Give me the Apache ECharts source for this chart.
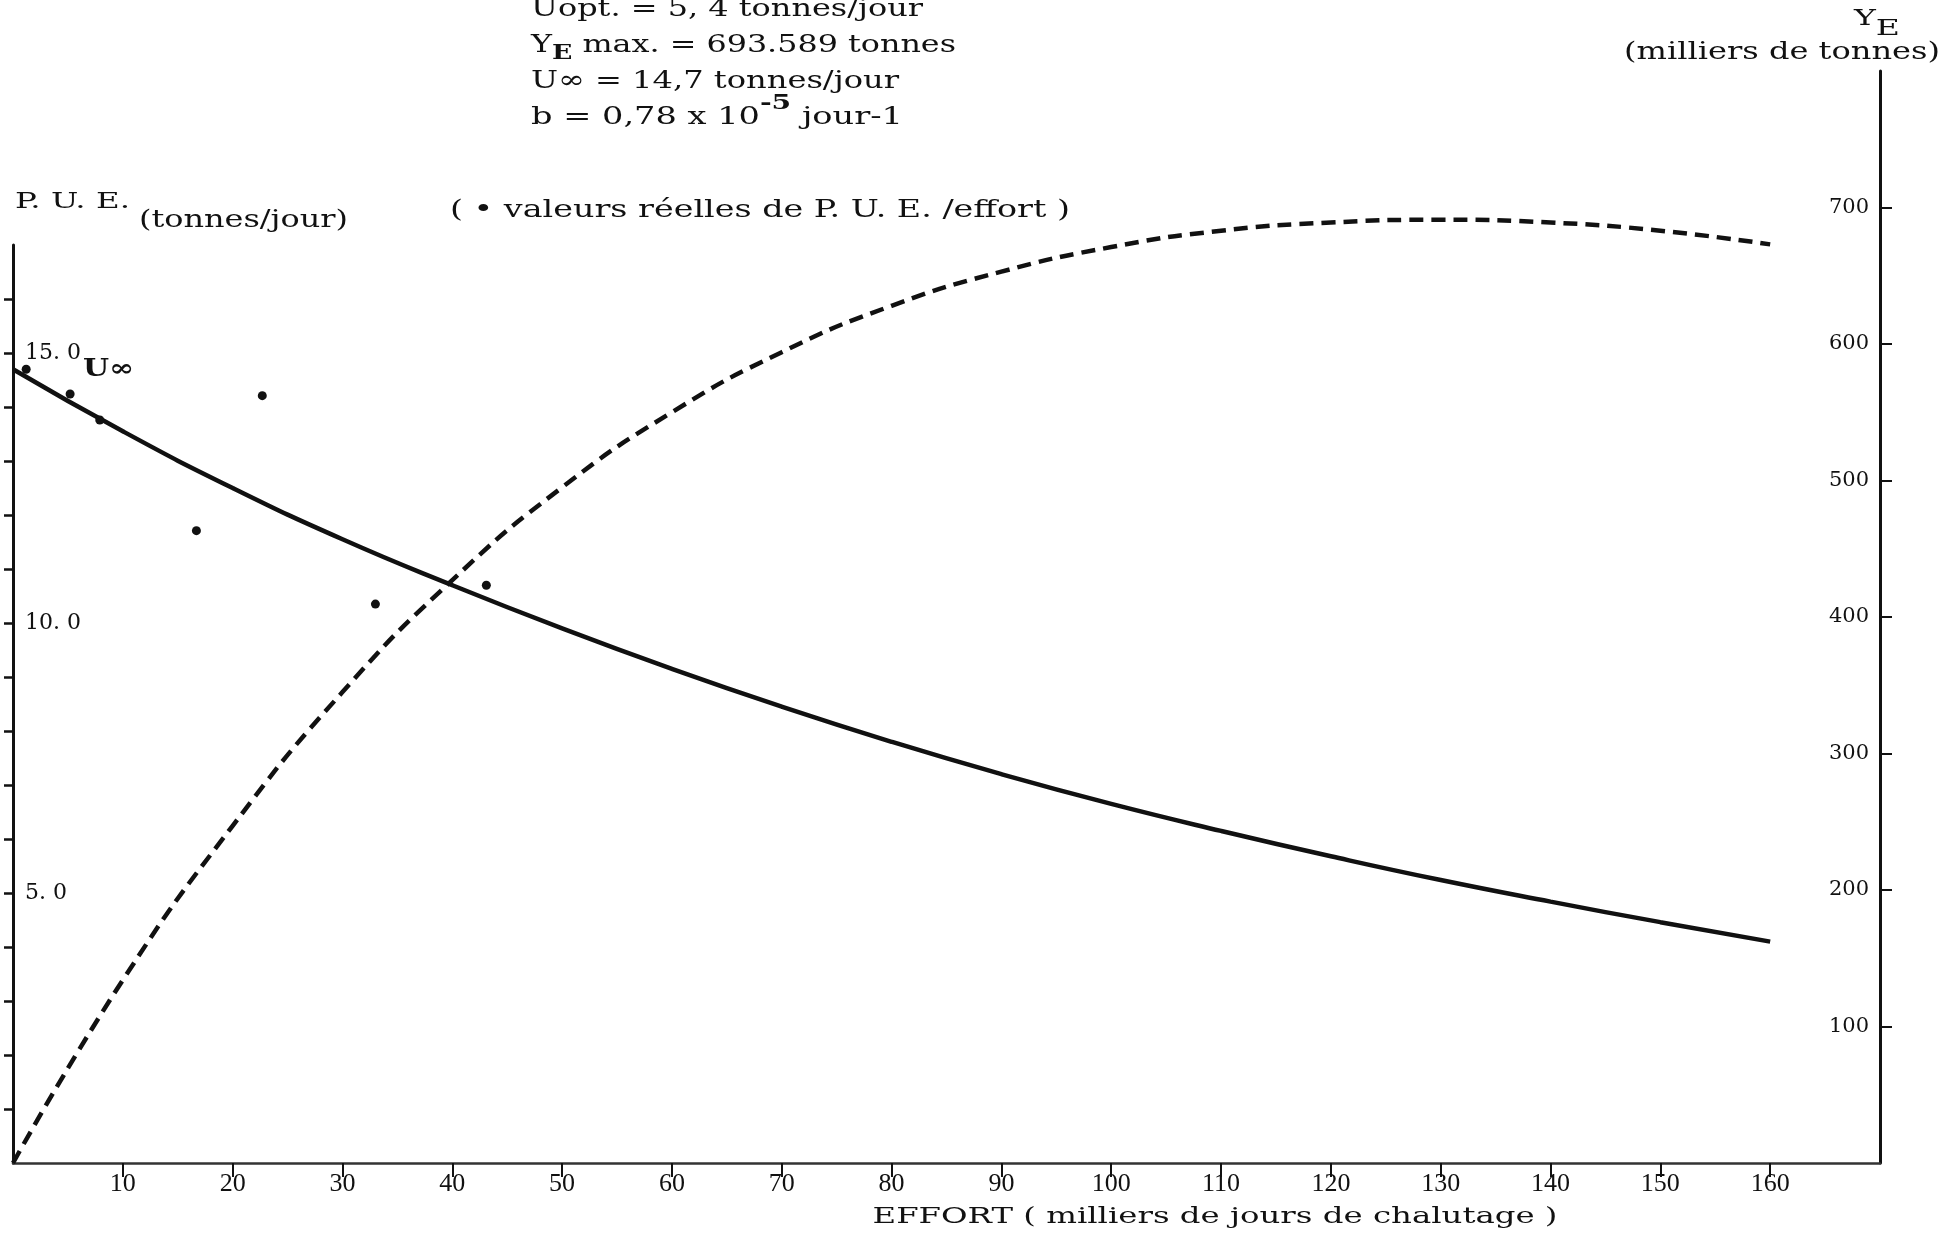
<!DOCTYPE html>
<html><head><meta charset="utf-8">
<script src="https://cdn.jsdelivr.net/npm/echarts@6/dist/echarts.min.js"></script>
<style>html,body{margin:0;padding:0;background:#fff}#c{width:1947px;height:1234px}</style>
</head><body><div id="c"></div>
<script>
// ---- data ----
const effort = [0, 10, 20, 30, 40, 50, 60, 70, 80, 90, 100, 110, 120, 130, 140, 150, 160];
const pue = [14.7, 13.55, 12.5, 11.55, 10.7, 9.9, 9.15, 8.45, 7.8, 7.2, 6.65, 6.15, 5.68, 5.24, 4.84, 4.46, 4.1];
const yieldE = [0, 134, 247, 345, 427, 495, 550, 594, 628, 653, 671, 683, 689, 691, 689, 683, 673];
const obsEffort = [1.2, 5.2, 7.9, 16.7, 22.7, 33.0, 43.1];
const obsPue = [14.7, 14.24, 13.76, 11.71, 14.21, 10.35, 10.70];
const xTickValues = [10, 20, 30, 40, 50, 60, 70, 80, 90, 100, 110, 120, 130, 140, 150, 160];
const xTickLabels = ['10', '20', '30', '40', '50', '60', '70', '80', '90', '100', '110', '120', '130', '140', '150', '160'];
const pueTickValues = [1, 2, 3, 4, 5, 6, 7, 8, 9, 10, 11, 12, 13, 14, 15, 16];
const pueLabelValues = [5, 10, 15];
const pueLabelTexts = ['5. 0', '10. 0', '15. 0'];
const yieldTickValues = [100, 200, 300, 400, 500, 600, 700];
const yieldTickLabels = ['100', '200', '300', '400', '500', '600', '700'];

// ---- layout ----
const SERIF = '"DejaVu Serif", serif';
const INK = '#111';
const cv = document.createElement('canvas').getContext('2d');
// place a run of text pieces starting at x, stretched horizontally to targetW
function seq(x, y, parts, targetW, align) {
  const items = parts.map(p => {
    const size = p.size || 24;
    const font = (p.weight || 'normal') + ' ' + size + 'px ' + SERIF;
    cv.font = font;
    return { p: p, font: font, w: cv.measureText(p.t).width };
  });
  const total = items.reduce((a, b) => a + b.w, 0);
  const s = targetW ? targetW / total : 1;
  let cx = align === 'center' ? x - total * s / 2 : x;
  return items.map(it => {
    const el = { type: 'text', x: cx, y: y + (it.p.dy || 0), scaleX: s, silent: true,
      style: { text: it.p.t, font: it.font, fill: INK, align: 'left', verticalAlign: 'middle' } };
    cx += it.w * s;
    return el;
  });
}

const chart = echarts.init(document.getElementById('c'), null, { renderer: 'canvas' });
const pairs = (xs, ys) => xs.map((x, i) => [x, ys[i]]);

const graphics = [].concat(
  seq(531, 9, [{ t: 'Uopt. = 5, 4 tonnes/jour', size: 25 }], 392),
  seq(531, 45, [{ t: 'Y', size: 25 }, { t: 'E', dy: 9, size: 21, weight: 'bold' }, { t: ' max. = 693.589 tonnes', size: 25 }], 425),
  seq(531, 81, [{ t: 'U∞ = 14,7 tonnes/jour', size: 25 }], 368),
  seq(531, 117, [{ t: 'b = 0,78 x 10', size: 25 }, { t: '-5', dy: -13, size: 21, weight: 'bold' }, { t: ' jour-1', size: 25 }], 372),
  seq(15, 202, [{ t: 'P. U. E.', size: 23 }], 115),
  seq(139, 221, [{ t: '(tonnes/jour)', size: 24 }], 209),
  seq(450, 211, [{ t: '( • valeurs réelles de P. U. E. /effort )', size: 24 }], 620),
  seq(1854, 19, [{ t: 'Y', size: 22 }, { t: 'E', dy: 10, size: 22 }], 46),
  seq(1624, 53, [{ t: '(milliers de tonnes)', size: 24 }], 316),
  seq(83, 370, [{ t: 'U∞', size: 24, weight: 'bold' }], 51),
  seq(1215, 1217, [{ t: 'EFFORT ( milliers de jours de chalutage )', size: 22 }], 685, 'center')
);

const option = {
  backgroundColor: '#fff',
  animation: false,
  grid: [
    { left: 13, right: 67, top: 245, bottom: 71, containLabel: false },
    { left: 13, right: 67, top: 71, bottom: 71, containLabel: false }
  ],
  xAxis: [
    { type: 'value', gridIndex: 0, min: 0, max: 170,
      axisLine: { show: true, onZero: false, lineStyle: { color: '#333', width: 2.5 } },
      axisTick: { show: true, inside: false, length: 14, lineStyle: { color: INK, width: 2 }, customValues: xTickValues },
      axisLabel: { show: true, margin: 8, fontFamily: '"Liberation Serif", serif', fontSize: 26, color: INK,
        customValues: xTickValues, formatter: v => xTickLabels[xTickValues.indexOf(v)] },
      splitLine: { show: false } },
    { type: 'value', gridIndex: 1, min: 0, max: 170, show: false,
      axisLine: { show: false, onZero: false } }
  ],
  yAxis: [
    { type: 'value', gridIndex: 0, position: 'left', min: 0, max: 17,
      axisLine: { show: true, onZero: false, lineStyle: { color: INK, width: 3 } },
      axisTick: { show: true, inside: false, length: 9, lineStyle: { color: INK, width: 2.5 }, customValues: pueTickValues },
      axisLabel: { show: true, inside: true, margin: 12, fontFamily: SERIF, fontSize: 22, color: INK,
        customValues: pueLabelValues, formatter: v => pueLabelTexts[pueLabelValues.indexOf(v)] },
      splitLine: { show: false } },
    { type: 'value', gridIndex: 1, position: 'right', min: 0, max: 800,
      axisLine: { show: true, onZero: false, lineStyle: { color: INK, width: 3 } },
      axisTick: { show: true, inside: false, length: 12, lineStyle: { color: INK, width: 2 }, customValues: yieldTickValues },
      axisLabel: { show: true, inside: true, margin: 11, fontFamily: SERIF, fontSize: 21, color: INK,
        customValues: yieldTickValues, formatter: v => yieldTickLabels[yieldTickValues.indexOf(v)] },
      splitLine: { show: false } }
  ],
  series: [
    { type: 'line', xAxisIndex: 0, yAxisIndex: 0, data: pairs(effort, pue), smooth: 0.5,
      showSymbol: false, symbol: 'none', lineStyle: { color: INK, width: 4.5 }, z: 3 },
    { type: 'line', xAxisIndex: 1, yAxisIndex: 1, data: pairs(effort, yieldE), smooth: 0.5,
      showSymbol: false, symbol: 'none', lineStyle: { color: INK, width: 4.5, type: [14, 8] }, z: 3 },
    { type: 'scatter', xAxisIndex: 0, yAxisIndex: 0, data: pairs(obsEffort, obsPue),
      symbol: 'circle', symbolSize: 9, itemStyle: { color: INK, opacity: 1 }, z: 4 }
  ],
  graphic: graphics
};
chart.setOption(option);
</script>
</body></html>
